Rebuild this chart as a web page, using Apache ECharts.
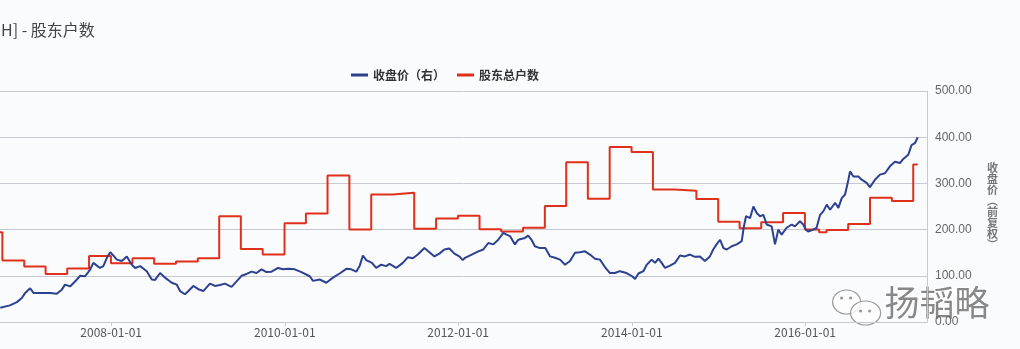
<!DOCTYPE html>
<html>
<head>
<meta charset="utf-8">
<script src="https://cdn.jsdelivr.net/npm/echarts@6/dist/echarts.min.js"></script>
<style>
html,body{margin:0;padding:0;background:#fafbfd;}
#c{width:1020px;height:349px;}
</style>
</head>
<body>
<div id="c"></div>
<script>
const tickLabels = ['2008-01-01','2010-01-01','2012-01-01','2014-01-01','2016-01-01'];

const priceDates = ['2006-09-21','2006-11-01','2006-11-30','2006-12-21','2007-01-04','2007-01-25','2007-02-08','2007-03-08','2007-04-19','2007-05-17','2007-06-07','2007-06-21','2007-07-12','2007-08-10','2007-08-23','2007-09-13','2007-10-04','2007-10-18','2007-11-02','2007-11-15','2007-11-29','2007-12-14','2007-12-28','2008-01-10','2008-01-25','2008-02-15','2008-03-07','2008-03-28','2008-04-11','2008-05-02','2008-05-30','2008-06-20','2008-07-04','2008-07-25','2008-08-15','2008-09-12','2008-10-03','2008-10-17','2008-11-07','2008-11-21','2008-12-12','2009-01-02','2009-01-23','2009-02-20','2009-03-13','2009-04-03','2009-04-24','2009-05-22','2009-06-12','2009-07-03','2009-07-24','2009-08-14','2009-09-04','2009-09-25','2009-10-16','2009-11-06','2009-12-04','2009-12-25','2010-01-15','2010-02-12','2010-03-12','2010-04-16','2010-04-30','2010-05-28','2010-06-25','2010-07-23','2010-08-20','2010-09-17','2010-10-08','2010-10-29','2010-11-12','2010-11-26','2010-12-10','2011-01-03','2011-01-21','2011-02-11','2011-03-04','2011-03-18','2011-04-15','2011-05-13','2011-06-03','2011-06-24','2011-07-15','2011-08-12','2011-09-02','2011-09-23','2011-10-14','2011-11-04','2011-11-25','2011-12-16','2012-01-06','2012-01-20','2012-01-30','2012-02-27','2012-03-26','2012-04-16','2012-05-07','2012-05-28','2012-06-18','2012-07-09','2012-07-23','2012-08-06','2012-08-27','2012-09-10','2012-10-08','2012-10-22','2012-11-05','2012-11-19','2012-12-10','2013-01-02','2013-01-22','2013-02-12','2013-03-05','2013-03-26','2013-04-16','2013-05-07','2013-05-28','2013-06-18','2013-07-09','2013-07-30','2013-08-20','2013-09-10','2013-10-01','2013-10-22','2013-11-12','2013-12-10','2014-01-02','2014-01-15','2014-01-29','2014-02-19','2014-03-05','2014-03-26','2014-04-09','2014-04-23','2014-05-07','2014-05-21','2014-06-11','2014-07-02','2014-07-23','2014-08-13','2014-09-03','2014-09-24','2014-10-15','2014-11-05','2014-11-26','2014-12-10','2014-12-24','2015-01-08','2015-01-22','2015-02-05','2015-02-26','2015-03-19','2015-04-09','2015-04-17','2015-04-27','2015-05-14','2015-05-28','2015-06-11','2015-06-25','2015-07-09','2015-07-23','2015-08-13','2015-08-27','2015-09-10','2015-09-24','2015-10-15','2015-11-05','2015-11-19','2015-12-10','2015-12-24','2016-01-04','2016-01-14','2016-02-04','2016-02-18','2016-03-04','2016-03-18','2016-04-01','2016-04-15','2016-05-06','2016-05-20','2016-06-03','2016-06-17','2016-07-01','2016-07-08','2016-07-22','2016-08-12','2016-08-26','2016-09-16','2016-09-30','2016-10-21','2016-11-11','2016-12-02','2016-12-23','2017-01-13','2017-02-03','2017-02-17','2017-03-10','2017-03-24','2017-04-07','2017-04-19'];
const priceValues = [31,36,43,52,63,73,63,63,63,61,70,81,77,92,100,99,113,128,122,117,121,139,151,144,135,132,142,124,117,121,110,92,91,106,96,85,81,67,60,67,78,71,67,83,78,80,83,76,88,100,104,109,106,114,108,109,117,114,115,114,108,99,89,92,85,96,105,115,114,109,121,144,134,128,117,124,121,126,117,128,140,138,146,160,151,142,148,157,159,148,142,134,139,146,153,157,171,168,178,193,189,186,168,178,182,187,178,164,160,160,142,139,135,124,132,150,151,153,146,137,135,119,106,106,110,106,99,93,105,110,124,135,128,137,128,117,122,128,144,142,146,141,142,132,142,157,168,178,160,157,164,168,175,204,229,225,250,236,229,232,211,207,168,200,189,204,211,207,218,211,200,196,200,204,232,240,254,243,258,247,268,276,308,326,315,315,308,301,292,308,319,322,337,347,344,353,362,383,387,400];

const holderDates = ['2006-06-30','2006-09-30','2006-12-31','2007-03-31','2007-06-30','2007-09-30','2007-12-31','2008-03-31','2008-06-30','2008-09-30','2008-12-31','2009-03-31','2009-06-30','2009-09-30','2009-12-31','2010-03-31','2010-06-30','2010-09-30','2010-12-31','2011-03-31','2011-06-30','2011-09-30','2011-12-31','2012-03-31','2012-06-30','2012-09-30','2012-12-31','2013-03-31','2013-06-30','2013-09-30','2013-12-31','2014-03-31','2014-06-30','2014-09-30','2014-12-31','2015-03-31','2015-06-30','2015-09-30','2015-12-31','2016-02-29','2016-03-31','2016-06-30','2016-09-30','2016-12-31','2017-03-31','2017-04-19'];
const holderValues = [194,133,120,104,116,143,127,138,126,131,138,229,158,146,214,235,317,200,276,280,202,224,230,201,196,204,251,346,267,379,368,287,284,266,217,203,216,236,200,194,199,212,269,262,341,341];

const chart = echarts.init(document.getElementById('c'), null, {renderer:'canvas'});
const T = s => { const p = s.split('-').map(Number); return Date.UTC(p[0], p[1] - 1, p[2]); };
const pad = n => (n < 10 ? '0' : '') + n;
const fmt = v => { const d = new Date(v); return d.getUTCFullYear() + '-' + pad(d.getUTCMonth() + 1) + '-' + pad(d.getUTCDate()); };
const tickVals = tickLabels.map(T);

chart.setOption({
  backgroundColor: '#fafbfd',
  animation: false,
  title: {
    text: 'H] - 股东户数',
    left: -4, top: 17,
    textStyle: {fontSize: 16, fontWeight: 'normal', color: '#444', fontFamily: 'Noto Sans CJK SC'}
  },
  legend: {
    left: 346, top: 64,
    itemWidth: 17, itemHeight: 3, itemGap: 12,
    icon: 'rect',
    data: ['收盘价（右）', '股东总户数'],
    textStyle: {fontSize: 12, fontWeight: 'bold', color: '#333', fontFamily: 'Noto Sans CJK SC'}
  },
  grid: {left: 0, right: 93, top: 91, bottom: 27, containLabel: false},
  xAxis: {
    type: 'value',
    min: T('2006-09-20'),
    max: T('2017-05-28'),
    splitLine: {show: false},
    axisLine: {show: true, lineStyle: {color: '#c8c9d3'}},
    axisTick: {show: true, length: 4, customValues: tickVals, lineStyle: {color: '#c8c9d3'}},
    axisLabel: {
      customValues: tickVals,
      color: '#555', fontSize: 12, margin: 4,
      fontFamily: 'Noto Sans CJK SC',
      formatter: v => fmt(v)
    }
  },
  yAxis: [
    {type: 'value', show: false, min: 0, max: 500, interval: 100, splitLine: {show: false}},
    {
      type: 'value', position: 'right', min: 0, max: 500, interval: 100,
      name: '收\n盘\n价\n︵\n前\n复\n权\n︶',
      nameLocation: 'middle', nameGap: 60, nameRotate: 0,
      nameTextStyle: {color: '#777', fontSize: 11, lineHeight: 11, fontWeight: 'bold', fontFamily: 'Noto Sans CJK SC'},
      axisLine: {show: true, lineStyle: {color: '#c8c9d3'}},
      axisTick: {show: false},
      splitLine: {show: true, lineStyle: {color: '#c6c8d2', width: 1}},
      axisLabel: {color: '#666', fontSize: 12, margin: 8, formatter: v => v.toFixed(2)}
    }
  ],
  series: [
    {
      name: '股东总户数', type: 'line', yAxisIndex: 0, step: 'end',
      showSymbol: false, symbol: 'none',
      lineStyle: {color: '#e0301b', width: 2}, itemStyle: {color: '#e0301b'},
      data: holderDates.map((d, i) => [T(d), holderValues[i]])
    },
    {
      name: '收盘价（右）', type: 'line', yAxisIndex: 1,
      showSymbol: false, symbol: 'none',
      lineStyle: {color: '#2c4190', width: 2}, itemStyle: {color: '#2c4190'},
      data: priceDates.map((d, i) => [T(d), priceValues[i]])
    }
  ],
  graphic: [
    {type: 'group', left: 832, top: 284, z: 100, children: [
      {type: 'ellipse', shape: {cx: 15, cy: 14, rx: 14, ry: 12}, style: {fill: 'rgba(255,255,255,0.6)', stroke: '#999', lineWidth: 1.2}},
      {type: 'ellipse', shape: {cx: 34, cy: 25, rx: 15, ry: 12}, style: {fill: 'rgba(255,255,255,0.8)', stroke: '#999', lineWidth: 1.2}},
      {type: 'circle', shape: {cx: 10, cy: 10, r: 1.6}, style: {fill: '#999'}},
      {type: 'circle', shape: {cx: 19, cy: 10, r: 1.6}, style: {fill: '#999'}},
      {type: 'circle', shape: {cx: 29, cy: 23, r: 1.6}, style: {fill: '#999'}},
      {type: 'circle', shape: {cx: 38, cy: 23, r: 1.6}, style: {fill: '#999'}},
      {type: 'text', x: 53, y: -3, style: {text: '扬韬略', fontSize: 35, fill: '#888', stroke: '#fff', lineWidth: 2, fontFamily: 'Noto Sans CJK SC'}}
    ]}
  ]
});
</script>
</body>
</html>
